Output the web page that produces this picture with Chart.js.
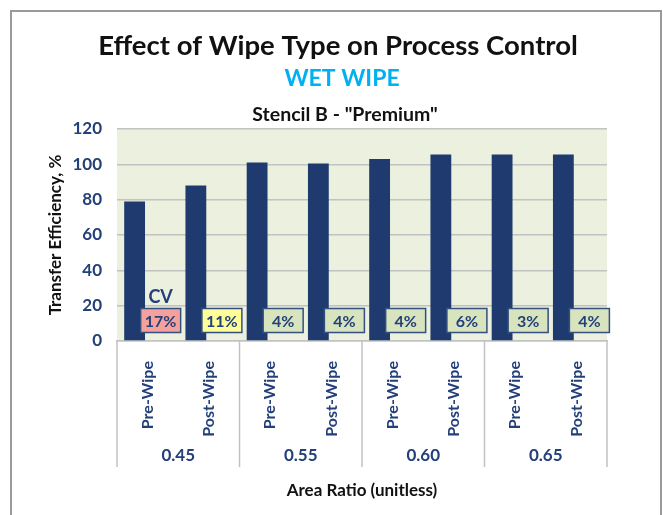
<!DOCTYPE html>
<html><head><meta charset="utf-8">
<script src="https://cdn.jsdelivr.net/npm/chart.js@4/dist/chart.umd.min.js"></script>
<style>html,body{margin:0;padding:0;background:#fff}#wrap{width:663px;height:515px;position:relative}</style>
</head><body><div id="wrap"><canvas id="c" width="663" height="515"></canvas></div>
<script>
const categories = ['Pre-Wipe','Post-Wipe','Pre-Wipe','Post-Wipe','Pre-Wipe','Post-Wipe','Pre-Wipe','Post-Wipe'];
const areaRatios = ['0.45','0.55','0.60','0.65'];
const transferEfficiency = [79, 88, 101, 100.5, 103, 105.5, 105.5, 105.5];
const cvPercent = [17, 11, 4, 4, 4, 6, 3, 4];
const cvBoxColors = ['#f4a09c','#ffff99','#d7e4bd','#d7e4bd','#d7e4bd','#d7e4bd','#d7e4bd','#d7e4bd'];
const yTicks = [0, 20, 40, 60, 80, 100, 120];

const FONT = 'Lato, "Open Sans", sans-serif';
const BLUE_TXT = '#24407a';
const BAR = '#1f3a6e';
const GRID = '#c2c2c2';
const CV_ROW = 11.6;     // y-level (data units) where CV boxes sit
const CV_LABEL_ROW = 24.8;

const framePlugin = {
  id: 'frame',
  beforeDraw(chart) {
    const ctx = chart.ctx, a = chart.chartArea;
    ctx.save();
    ctx.fillStyle = '#fff';
    ctx.fillRect(0, 0, chart.width, chart.height);
    ctx.strokeStyle = '#9a9a9a';
    ctx.lineWidth = 2;
    ctx.strokeRect(11, 11, 650, 530);
    ctx.fillStyle = '#ebf1de';
    ctx.fillRect(a.left, a.top, a.right - a.left, a.bottom - a.top);
    // titles
    ctx.textAlign = 'center';
    ctx.textBaseline = 'middle';
    const cx = 338;
    ctx.fillStyle = '#111';
    ctx.font = 'bold 27.5px ' + FONT;
    ctx.fillText('Effect of Wipe Type on Process Control', cx, 46);
    ctx.fillStyle = '#00b0f0';
    ctx.font = 'bold 23px ' + FONT;
    ctx.fillText('WET WIPE', 342, 79);
    ctx.fillStyle = '#111';
    ctx.font = 'bold 19.5px ' + FONT;
    ctx.fillText('Stencil B - "Premium"', 345, 115);
    ctx.restore();
  },
  afterDraw(chart) {
    const ctx = chart.ctx, xs = chart.scales.x, a = chart.chartArea;
    ctx.save();
    // group separators
    ctx.strokeStyle = GRID;
    ctx.lineWidth = 1.5;
    const n = areaRatios.length;
    const per = categories.length / n;
    const bounds = [xs.left];
    for (let g = 1; g < n; g++) {
      bounds.push((xs.getPixelForTick(g * per - 1) + xs.getPixelForTick(g * per)) / 2);
    }
    bounds.push(xs.right);
    bounds.forEach(bx => {
      ctx.beginPath();
      ctx.moveTo(bx, a.bottom);
      ctx.lineTo(bx, a.bottom + 126);
      ctx.stroke();
    });
    // group labels
    ctx.fillStyle = BLUE_TXT;
    ctx.font = 'bold 17px ' + FONT;
    ctx.textAlign = 'center';
    ctx.textBaseline = 'middle';
    areaRatios.forEach((lab, g) => {
      ctx.fillText(lab, (bounds[g] + bounds[g + 1]) / 2, a.bottom + 115);
    });
    ctx.restore();
  },
  afterDatasetsDraw(chart) {
    const ctx = chart.ctx, ys = chart.scales.y;
    const meta = chart.getDatasetMeta(1);
    ctx.save();
    const yc = ys.getPixelForValue(CV_ROW);
    meta.data.forEach((el, i) => {
      const w = 40, h = 24;
      ctx.fillStyle = cvBoxColors[i];
      ctx.fillRect(el.x - w / 2, yc - h / 2, w, h);
      ctx.strokeStyle = '#34507f';
      ctx.lineWidth = 1.5;
      ctx.strokeRect(el.x - w / 2, yc - h / 2, w, h);
      ctx.fillStyle = BLUE_TXT;
      ctx.font = 'bold 16px ' + FONT;
      ctx.textAlign = 'center';
      ctx.textBaseline = 'middle';
      ctx.fillText(cvPercent[i] + '%', el.x, yc + 1);
    });
    const first = meta.data[0];
    ctx.font = 'bold 18px ' + FONT;
    ctx.fillText('CV', first.x, ys.getPixelForValue(CV_LABEL_ROW));
    ctx.restore();
  }
};

new Chart(document.getElementById('c'), {
  type: 'bar',
  data: {
    labels: categories,
    datasets: [
      { label: 'Transfer Efficiency', data: transferEfficiency, backgroundColor: BAR,
        barPercentage: 0.8, categoryPercentage: 0.85 },
      { label: 'CV', data: cvPercent, backgroundColor: 'rgba(0,0,0,0)',
        barPercentage: 0.8, categoryPercentage: 0.85 }
    ]
  },
  options: {
    responsive: false,
    animation: false,
    devicePixelRatio: 1,
    layout: { padding: { top: 129, right: 56, left: 0, bottom: 0 } },
    plugins: { legend: { display: false }, tooltip: { enabled: false }, title: { display: false } },
    scales: {
      x: {
        afterFit(s) { s.height = 174; },
        grid: { display: false },
        border: { display: true, color: GRID, width: 1.5 },
        ticks: { autoSkip: false, maxRotation: 90, minRotation: 90, padding: 12,
          color: BLUE_TXT, font: { family: FONT, size: 16, weight: 'bold' } },
        title: { display: true, text: 'Area Ratio (unitless)', color: '#111',
          font: { family: FONT, size: 17, weight: 'bold' }, padding: { top: 0, bottom: 14 } }
      },
      y: {
        min: 0, max: 120,
        afterFit(s) { s.width = 117; },
        afterBuildTicks(s) { s.ticks = yTicks.map(v => ({ value: v })); },
        grid: { color: GRID, lineWidth: 1.5, drawTicks: false },
        border: { display: false },
        ticks: { padding: 15, color: BLUE_TXT, font: { family: FONT, size: 17, weight: 'bold' } },
        title: { display: true, text: 'Transfer Efficiency, %', color: '#111',
          font: { family: FONT, size: 17, weight: 'bold' }, padding: { top: 45, bottom: 0 } }
      }
    }
  },
  plugins: [framePlugin]
});
</script>
</body></html>
